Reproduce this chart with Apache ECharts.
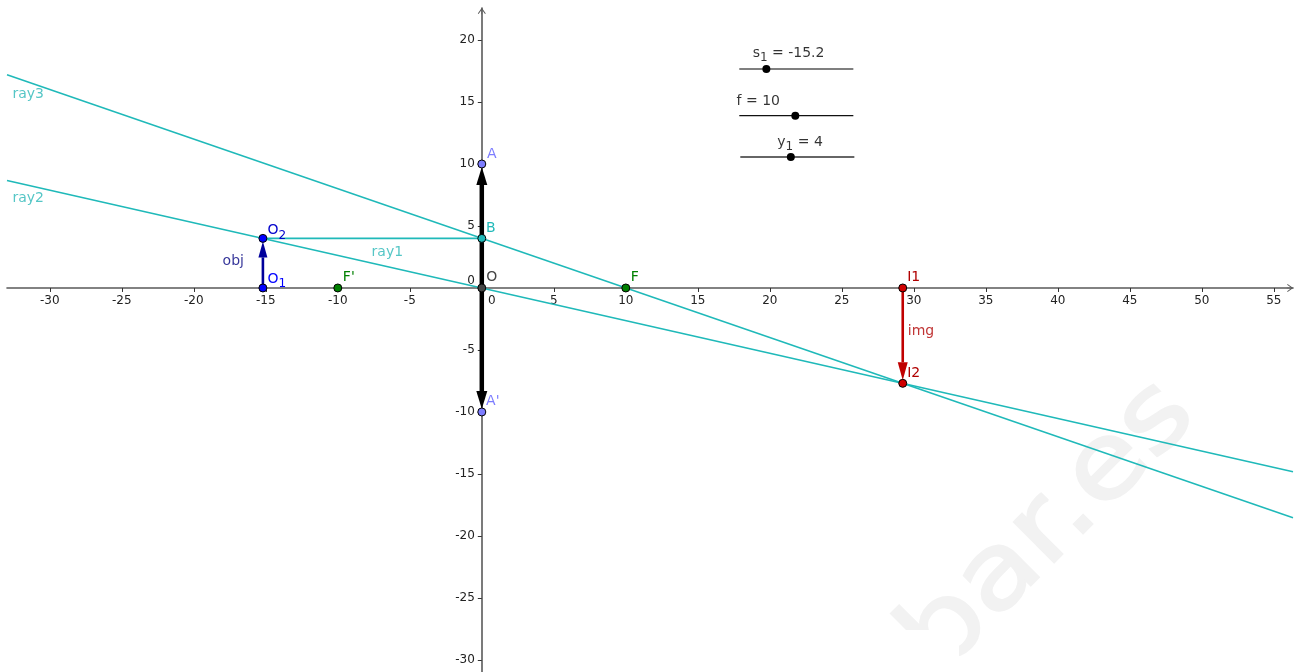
<!DOCTYPE html>
<html><head><meta charset="utf-8">
<style>html,body{margin:0;padding:0;background:#fff}#c{width:1298px;height:672px}</style>
<script src="https://cdn.jsdelivr.net/npm/echarts@6/dist/echarts.min.js"></script>
</head><body><div id="c"></div>
<script>
const xTicks=[-30,-25,-20,-15,-10,-5,0,5,10,15,20,25,30,35,40,45,50,55];
const yTicks=[-30,-25,-20,-15,-10,-5,0,5,10,15,20];
const ray1=[[-15.2,4],[0,4]];
const ray2=[[-32.97,8.67],[56.33,-14.82]];
const ray3=[[-32.97,17.19],[56.33,-18.53]];
const lensUp=[0,0,0,10];
const lensDown=[0,0,0,-10];
const objArrow=[-15.2,0,-15.2,4];
const imgArrow=[29.23,0,29.23,-7.69];
const pointNames=['A',"A'",'B','O','O1','O2',"F'",'F','I1','I2'];
const pointX=[0,0,0,0,-15.2,-15.2,-10,10,29.23,29.23];
const pointY=[10,-10,4,0,0,4,0,0,0,-7.69];
const sliderS=[[17.88,17.66],[25.8,17.66]];
const sliderF=[[17.88,13.9],[25.8,13.9]];
const sliderY=[[17.95,10.56],[25.87,10.56]];
const sliderDots=[[19.76,17.66],[21.77,13.9],[21.46,10.56]];
const captions=[['obj',-17.26,2.14],['img',30.5,-3.52],['ray1',-6.56,2.9],['ray2',-31.5,7.22],['ray3',-31.5,15.61]];
const sliderText=[['s1',21.3,18.93,'{t|s}{u|1}{t| = -15.2}'],['f',19.2,15.06,'{t|f = 10}'],['y1',22.1,11.75,'{t|y}{u|1}{t| = 4}']];

const FONT='DejaVu Sans';
const TEAL='#1fb9b9';
const XMIN=-32.97,XMAX=56.33,YMIN=-30.97,YMAX=22.58;
const W=1298,H=672,GL=7,GR=5,GT=8,GB=0;
const offX=-(0-YMIN)/(YMAX-YMIN)*(H-GT-GB);
const offY=-(0-XMIN)/(XMAX-XMIN)*(W-GL-GR);
const pointStyle={A:['#7d7dff','#7d7dff',10,-10],"A'":['#7d7dff','#7d7dff',11,-11],B:[TEAL,TEAL,9,-10],O:['#444444','#444444',10,-11],
 O1:['#0000ff','#0000ff',14,-9],O2:['#0000ff','#0000cc',14,-8],"F'":['#008000','#008000',11,-11],F:['#008000','#008000',9,-11],
 I1:['#d00000','#b00000',11,-11],I2:['#d00000','#b00000',11,-10]};
const capColor={obj:'#000080',img:'#b00000',ray1:'#2bb8b8',ray2:'#2bb8b8',ray3:'#2bb8b8'};
const arrows=[[...lensUp,'#000000',4.5,18,5.5],[...lensDown,'#000000',4.5,18,5.5],[...objArrow,'#00009c',2.6,16,4.5],[...imgArrow,'#c00000',2.6,18,5]];
const lineS=(d,c,w,z)=>({type:'line',data:d,symbol:'none',silent:true,z:z||2,lineStyle:{color:c,width:w},animation:false});
function labelText(n){const m=n.match(/^([A-Z])([12])$/);
 if(m&&n[0]==='O')return '{t|O}{u|'+m[2]+'}';return '{t|'+n+'}';}
const chart=echarts.init(document.getElementById('c'),null,{renderer:'canvas'});
const chev='path://M0,7 L5,0 L10,7 L9,7.6 L5.4,2.6 L5.4,8 L4.6,8 L4.6,2.6 L1,7.6 Z';
chart.setOption({
 animation:false,backgroundColor:'#fff',
 textStyle:{fontFamily:FONT},
 grid:{left:GL,right:GR,top:GT,bottom:GB,outerBoundsMode:'none',containLabel:false},
 xAxis:{type:'value',position:'bottom',offset:offX,min:XMIN,max:XMAX,splitLine:{show:false},
  axisLine:{onZero:false,lineStyle:{color:'#5a5a5a',width:1.6},symbol:['none',chev],symbolSize:[8,7],symbolOffset:[0,-3]},
  axisTick:{show:true,customValues:xTicks.filter(v=>v!==0),length:4,lineStyle:{color:'#333',width:1}},
  axisLabel:{show:true,customValues:xTicks,margin:7,fontSize:12,color:'#222',fontFamily:FONT,hideOverlap:false,
   formatter:v=>v===0?'{z|0}':String(v),rich:{z:{fontSize:12,color:'#222',fontFamily:FONT,padding:[0,0,0,20]}}}},
 yAxis:{type:'value',position:'left',offset:offY,min:YMIN,max:YMAX,splitLine:{show:false},
  axisLine:{onZero:false,lineStyle:{color:'#5a5a5a',width:1.6},symbol:['none',chev],symbolSize:[8,7],symbolOffset:[0,-3]},
  axisTick:{show:true,customValues:yTicks.filter(v=>v!==0),length:4,lineStyle:{color:'#333',width:1}},
  axisLabel:{show:true,customValues:yTicks,margin:7,fontSize:12,color:'#222',fontFamily:FONT,hideOverlap:false,
   formatter:v=>v===0?'{z|0}':String(v),rich:{z:{fontSize:12,color:'#222',fontFamily:FONT,padding:[0,0,14,0]}}}},
 graphic:[
  {type:'text',z:-10,silent:true,rotation:Math.PI/4,x:1050,y:528,scaleX:1.03,scaleY:0.88,
   style:{text:'bar.es',fontSize:118,fontFamily:FONT,fill:'#f2f2f2',stroke:'#f2f2f2',lineWidth:2.5,align:'center',verticalAlign:'middle'}},
  {type:'rect',z:-9,silent:true,shape:{x:860,y:630,width:99,height:42},style:{fill:'#fff'}}
 ],
 series:[
  lineS(ray3,TEAL,1.5),lineS(ray2,TEAL,1.5),lineS(ray1,TEAL,1.6),
  lineS(sliderS,'#555',1.5),lineS(sliderF,'#111',1.3),lineS(sliderY,'#333',1.4),
  {type:'custom',z:4,silent:true,clip:false,data:arrows,encode:{x:[0,2],y:[1,3]},
   renderItem(p,api){
    const a=api.coord([api.value(0),api.value(1)]),b=api.coord([api.value(2),api.value(3)]);
    const d=arrows[p.dataIndex],w=d[5],h=d[6],hw=d[7],col=d[4];
    const dx=b[0]-a[0],dy=b[1]-a[1],L=Math.hypot(dx,dy),ux=dx/L,uy=dy/L;
    const tip=[b[0]-ux*3,b[1]-uy*3],base=[tip[0]-ux*h,tip[1]-uy*h];
    return {type:'group',children:[
     {type:'line',shape:{x1:a[0],y1:a[1],x2:base[0],y2:base[1]},style:{stroke:col,lineWidth:w}},
     {type:'polygon',shape:{points:[tip,[base[0]-uy*hw,base[1]+ux*hw],[base[0]+uy*hw,base[1]-ux*hw]]},style:{fill:col}}
    ]};
   }},
  {type:'scatter',z:6,silent:true,symbolSize:8,data:pointNames.map((n,i)=>({
    value:[pointX[i],pointY[i]],
    itemStyle:{color:pointStyle[n][0],borderColor:'#000',borderWidth:1,opacity:1},
    label:{show:true,position:'inside',offset:[pointStyle[n][2],pointStyle[n][3]],
     formatter:labelText(n),
     rich:{t:{fontSize:14,fontFamily:FONT,color:pointStyle[n][1]},
           u:{fontSize:12,fontFamily:FONT,color:pointStyle[n][1],padding:[10,0,0,0]}}}
   }))},
  {type:'scatter',z:6,silent:true,symbolSize:8,data:sliderDots,itemStyle:{color:'#000',opacity:1}},
  {type:'scatter',z:7,silent:true,symbolSize:1,itemStyle:{color:'rgba(0,0,0,0)'},data:captions.map(c=>({
    value:[c[1],c[2]],
    label:{show:true,position:'inside',formatter:c[0],fontSize:14,fontFamily:FONT,color:capColor[c[0]]}}))},
  {type:'scatter',z:7,silent:true,symbolSize:1,itemStyle:{color:'rgba(0,0,0,0)'},data:sliderText.map(c=>({
    value:[c[1],c[2]],
    label:{show:true,position:'inside',formatter:c[3],
     rich:{t:{fontSize:14,fontFamily:FONT,color:'#000'},u:{fontSize:12,fontFamily:FONT,color:'#000',padding:[10,0,0,0]}}}}))}
 ]
});
</script></body></html>
